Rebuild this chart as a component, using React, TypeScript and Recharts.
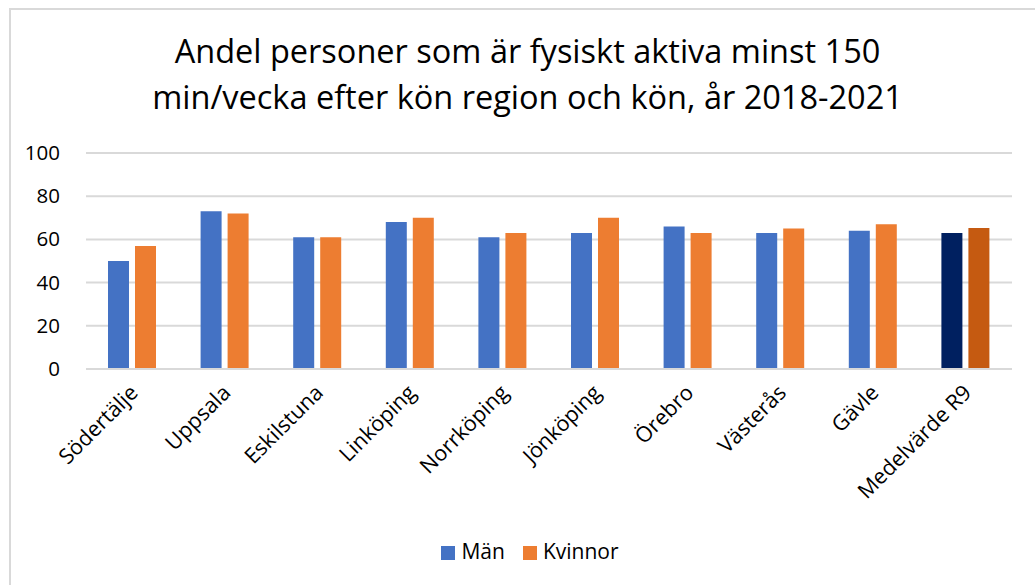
import React from "react";
import { BarChart, Bar, XAxis, YAxis, CartesianGrid, Legend, Cell } from "recharts";

const categories = ["Södertälje", "Uppsala", "Eskilstuna", "Linköping", "Norrköping", "Jönköping", "Örebro", "Västerås", "Gävle", "Medelvärde R9"];
const manValues = [50, 73, 61, 68, 61, 63, 66, 63, 64, 63];
const kvinnorValues = [57, 72, 61, 70, 63, 70, 63, 65, 67, 65.3];
const yTicks = [0, 20, 40, 60, 80, 100];
const titleLines = ["Andel personer som är fysiskt aktiva minst 150", "min/vecka efter kön region och kön, år 2018-2021"];
const legendOrder = ["Män", "Kvinnor"];

const data = categories.map((c, i) => ({ name: c, man: manValues[i], kvinnor: kvinnorValues[i] }));

const FONT = "'Open Sans', 'Noto Sans', sans-serif";

const XTick = (props: any) => {
  const { x, y, payload } = props;
  return (
    <g transform={`translate(${x + 7},${y + 17})`}>
      <text x={0} y={0} textAnchor="end" transform="rotate(-45)" style={{ fontSize: 21.5 }} fill="#000" fontFamily={FONT}>
        {payload.value}
      </text>
    </g>
  );
};

const YTick = (props: any) => {
  const { x, y, payload } = props;
  return (
    <text x={x} y={y} dy={7} textAnchor="end" style={{ fontSize: 20.5 }} fill="#000" fontFamily={FONT}>
      {payload.value}
    </text>
  );
};

export default function App() {
  return (
    <div style={{ position: "absolute", left: 0, top: 0, width: 1035, height: 585, background: "#fff", fontFamily: FONT }}>
      <div style={{ position: "absolute", left: 9, top: 8, right: 0, bottom: 0, borderLeft: "2px solid #d9d9d9", borderTop: "2px solid #d9d9d9" }} />
      <div style={{ position: "absolute", left: 0, width: 1055, top: 28, textAlign: "center", fontFamily: FONT, fontSize: 32.5, lineHeight: "46px", color: "#000" }}>
        {titleLines.map((t) => (
          <div key={t}>{t}</div>
        ))}
      </div>
      <div style={{ position: "absolute", left: 0, top: 0 }}>
        <BarChart width={1035} height={585} data={data} margin={{ top: 153, right: 23, left: 20, bottom: 14 }} barGap={6} barCategoryGap={22}>
          <CartesianGrid vertical={false} stroke="#d9d9d9" strokeWidth={2} />
          <XAxis dataKey="name" interval={0} tickLine={false} axisLine={{ stroke: "#d9d9d9", strokeWidth: 2 }} height={168} tick={<XTick />} />
          <YAxis domain={[0, 100]} ticks={yTicks} width={66} axisLine={false} tickLine={false} tick={<YTick />} tickMargin={20} interval={0} />
          <Legend
            verticalAlign="bottom"
            height={34}
            iconType="square"
            iconSize={14}
            itemSorter={(item: any) => legendOrder.indexOf(item.value)}
            wrapperStyle={{ fontSize: 21, fontFamily: FONT, paddingLeft: 46, boxSizing: "border-box" }}
            formatter={(v: any) => <span style={{ color: "#000", fontSize: 21, marginLeft: 2, marginRight: 8 }}>{v}</span>}
          />
          <Bar dataKey="man" name="Män" fill="#4472C4" barSize={21} isAnimationActive={false}>
            {data.map((d, i) => (
              <Cell key={d.name} fill={i === data.length - 1 ? "#002060" : "#4472C4"} />
            ))}
          </Bar>
          <Bar dataKey="kvinnor" name="Kvinnor" fill="#ED7D31" barSize={21} isAnimationActive={false}>
            {data.map((d, i) => (
              <Cell key={d.name} fill={i === data.length - 1 ? "#C55A11" : "#ED7D31"} />
            ))}
          </Bar>
        </BarChart>
      </div>
    </div>
  );
}
